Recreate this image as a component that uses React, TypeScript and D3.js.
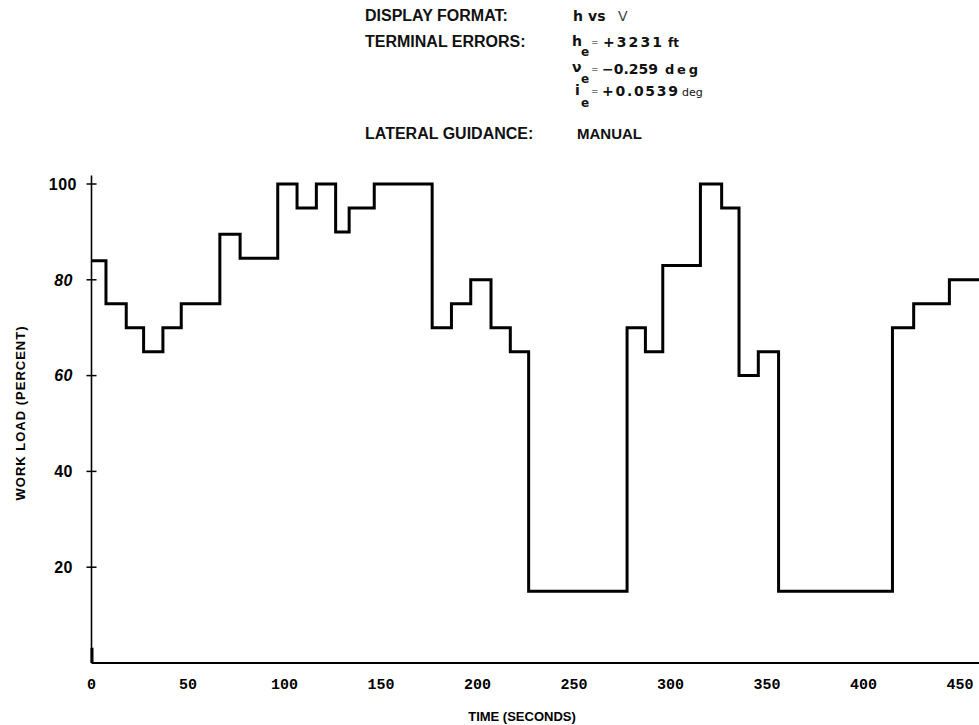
import React from "react"
import * as d3 from "d3"

// step starts (seconds) and work load (percent) held until the next step
const stepTimes = [
  0, 7.5, 18, 27, 37, 46.5, 66.5, 77, 96.5, 106.5, 116.5, 126.5, 133.5, 146.5,
  176.5, 186.5, 196.5, 207, 217, 226.5, 277.5, 287, 296, 315.5, 326.5, 335.5,
  345.5, 356, 415, 426, 444.5,
]
const workLoad = [
  84, 75, 70, 65, 70, 75, 89.5, 84.5, 100, 95, 100, 90, 95, 100, 70, 75, 80, 70,
  65, 15, 70, 65, 83, 100, 95, 60, 65, 15, 70, 75, 80,
]
const endTime = 460

const yTicks = [20, 40, 60, 80, 100]
const italicYTicks = [60, 80]
const xTicks = [0, 50, 100, 150, 200, 250, 300, 350, 400, 450]

const headerLabels = ["DISPLAY FORMAT:", "TERMINAL ERRORS:", "LATERAL GUIDANCE:"]

const sans = "'Liberation Sans', Arial, sans-serif"
const wide = "'DejaVu Sans', sans-serif"
const mono = "'Liberation Mono', monospace"

export default function App() {
  const x = d3.scaleLinear().domain([0, endTime]).range([91.5, 979.3])
  const y = d3.scaleLinear().domain([0, 100]).range([663, 184])

  const pts: [number, number][] = stepTimes.map((t, i) => [t, workLoad[i]])
  pts.push([endTime, workLoad[workLoad.length - 1]])

  const line = d3
    .line<[number, number]>()
    .x(d => x(d[0]))
    .y(d => y(d[1]))
    .curve(d3.curveStepAfter)

  const x0 = x(0)

  return (
    <svg
      width={979}
      height={725}
      style={{ position: "absolute", left: 0, top: 0, background: "#fff" }}
    >
      {/* header block */}
      <g fontFamily={sans} fontWeight="bold" fontSize={16} fill="#111">
        <text x={365} y={21}>{headerLabels[0]}</text>
        <text x={365} y={47}>{headerLabels[1]}</text>
        <text x={365} y={139}>{headerLabels[2]}</text>
        <text x={577} y={139} fontSize={15}>MANUAL</text>
      </g>
      <g fontFamily={wide} fill="#111">
        <text x={573} y={21} fontSize={14} fontWeight="bold">h</text>
        <text x={588} y={21} fontSize={14} fontWeight="bold">vs</text>
        <text x={618} y={21} fontSize={14} fill="#444">V</text>

        <text x={572} y={46} fontSize={14} fontWeight="bold">h</text>
        <text x={581} y={56} fontSize={12} fontWeight="bold">e</text>
        <text x={591} y={45} fontSize={9}>=</text>
        <text x={603} y={47} fontSize={14} fontWeight="bold" textLength={59} lengthAdjust="spacing">+3231</text>
        <text x={668} y={47} fontSize={12} fontWeight="bold">ft</text>

        <text x={572} y={72} fontSize={14} fontWeight="bold">ν</text>
        <text x={581} y={83} fontSize={12} fontWeight="bold">e</text>
        <text x={591} y={72} fontSize={9}>=</text>
        <text x={602} y={74} fontSize={14} fontWeight="bold" textLength={56} lengthAdjust="spacing">−0.259</text>
        <text x={665} y={74} fontSize={13} fontWeight="bold" textLength={33} lengthAdjust="spacing">deg</text>

        <text x={575} y={95} fontSize={14} fontWeight="bold">i</text>
        <text x={581} y={107} fontSize={12} fontWeight="bold">e</text>
        <text x={591} y={94} fontSize={9}>=</text>
        <text x={602} y={96} fontSize={14} fontWeight="bold" textLength={76} lengthAdjust="spacing">+0.0539</text>
        <text x={682} y={96} fontSize={11}>deg</text>
      </g>

      {/* axes */}
      <line x1={x0} x2={x0} y1={y(101.8)} y2={y(0)} stroke="#000" strokeWidth={1.6} />
      <line x1={x0 + 0.5} x2={x0 + 0.5} y1={y(3.2)} y2={y(0)} stroke="#000" strokeWidth={3} />
      <line x1={x0} x2={x(endTime)} y1={y(0)} y2={y(0)} stroke="#000" strokeWidth={2} />

      {yTicks.map(t => (
        <g key={t}>
          <line x1={x0 - 5} x2={x0 + 5} y1={y(t)} y2={y(t)} stroke="#000" strokeWidth={1.5} />
          <text
            x={t === 100 ? 77 : 73}
            y={y(t)}
            dy="0.36em"
            textAnchor="end"
            fontFamily={sans}
            fontWeight="bold"
            fontStyle={italicYTicks.includes(t) ? "italic" : "normal"}
            fontSize={16}
            letterSpacing={0.5}
          >
            {t}
          </text>
        </g>
      ))}

      {xTicks.map(t => (
        <text
          key={t}
          x={x(t)}
          y={689}
          textAnchor="middle"
          fontFamily={mono}
          fontWeight="bold"
          fontSize={15}
        >
          {t}
        </text>
      ))}

      <text
        x={522}
        y={721}
        textAnchor="middle"
        fontFamily={sans}
        fontWeight="bold"
        fontSize={13}
      >
        TIME (SECONDS)
      </text>
      <text
        transform={`translate(25,413) rotate(-90)`}
        textAnchor="middle"
        fontFamily={sans}
        fontWeight="bold"
        fontSize={13}
        letterSpacing={1}
      >
        WORK LOAD (PERCENT)
      </text>

      {/* work load trace */}
      <path
        d={line(pts) ?? ""}
        fill="none"
        stroke="#000"
        strokeWidth={3}
        strokeLinejoin="miter"
      />
    </svg>
  )
}
